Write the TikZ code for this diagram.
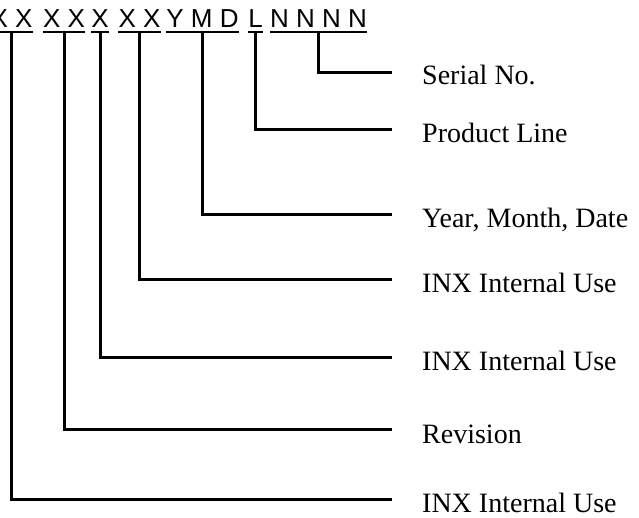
\documentclass[tikz,border=0pt]{standalone}
\usepackage{fontspec}
\setmainfont{Liberation Serif}
\newfontfamily\codefont{Liberation Sans}
\usepackage{tikz}

\begin{document}
\begin{tikzpicture}[x=1pt, y=-1pt,
        code/.style={font=\codefont\fontsize{26}{26}\selectfont, inner sep=0pt, text depth=0pt, anchor=base},
        field/.style={font=\fontsize{28}{28}\selectfont, inner sep=0pt, anchor=base west},
        link/.style={line width=3pt},
        uline/.style={line width=2pt}]
                \useasboundingbox (0,0) rectangle (639,518);
                \node [code] (xa) at (11.5,28) {X X};
                \node [code] (xb) at (64,28) {X X};
                \node [code] (xc) at (100,28) {X};
                \node [code] (xd) at (139.5,28) {X X};
                \node [code] (ymd) at (202.5,28) {Y M D};
                \node [code] (lin) at (255.5,28) {L};
                \node [code] (ser) at (318.5,28) {N N N N};
                \draw [uline] ([yshift=-4pt]xa.base west) -- ([yshift=-4pt]xa.base east);
                \draw [uline] ([yshift=-4pt]xb.base west) -- ([yshift=-4pt]xb.base east);
                \draw [uline] ([yshift=-4pt]xc.base west) -- ([yshift=-4pt]xc.base east);
                \draw [uline] ([yshift=-4pt]xd.base west) -- ([yshift=-4pt]xd.base east);
                \draw [uline] ([yshift=-4pt]ymd.base west) -- ([yshift=-4pt]ymd.base east);
                \draw [uline] ([yshift=-4pt]lin.base west) -- ([yshift=-4pt]lin.base east);
                \draw [uline] ([yshift=-4pt]ser.base west) -- ([yshift=-4pt]ser.base east);
                \coordinate (eser) at (392,72.7);
                \coordinate (elin) at (392,130);
                \coordinate (eymd) at (392,215);
                \coordinate (exd) at (392,280);
                \coordinate (exc) at (392,357);
                \coordinate (exb) at (392,429);
                \coordinate (exa) at (392,499);
                \node [field] (tser) at (422,85) {Serial No.};
                \node [field] (tlin) at (422,143) {Product Line};
                \node [field] (tymd) at (422,228) {Year, Month, Date};
                \node [field] (txd) at (422,292) {INX Internal Use};
                \node [field] (txc) at (422,370) {INX Internal Use};
                \node [field] (txb) at (422,443) {Revision};
                \node [field] (txa) at (422,512) {INX Internal Use};
                \draw [link] ([yshift=-4pt]ser.base) |- (eser);
                \draw [link] ([yshift=-4pt]lin.base) |- (elin);
                \draw [link] ([yshift=-4pt]ymd.base) |- (eymd);
                \draw [link] ([yshift=-4pt]xd.base) |- (exd);
                \draw [link] ([yshift=-4pt]xc.base) |- (exc);
                \draw [link] ([yshift=-4pt]xb.base) |- (exb);
                \draw [link] ([yshift=-4pt]xa.base) |- (exa);
            \end{tikzpicture}
\end{document}
